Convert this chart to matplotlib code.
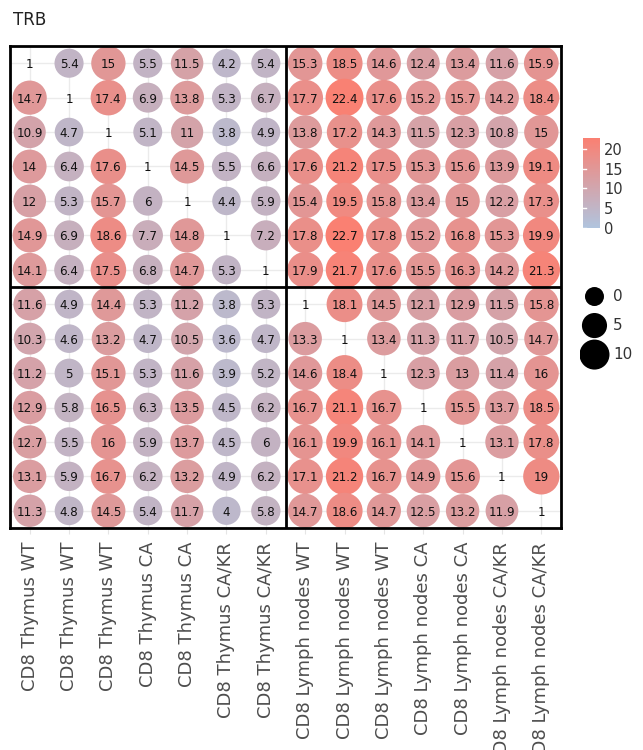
import matplotlib.pyplot as plt
import numpy as np
from matplotlib.colors import LinearSegmentedColormap, Normalize

# Muestras (mismo orden en filas y columnas)
muestras = [
    'CD8 Thymus WT', 'CD8 Thymus WT', 'CD8 Thymus WT',
    'CD8 Thymus CA', 'CD8 Thymus CA',
    'CD8 Thymus CA/KR', 'CD8 Thymus CA/KR',
    'CD8 Lymph nodes WT', 'CD8 Lymph nodes WT', 'CD8 Lymph nodes WT',
    'CD8 Lymph nodes CA', 'CD8 Lymph nodes CA',
    'CD8 Lymph nodes CA/KR', 'CD8 Lymph nodes CA/KR',
]

# Valores por fila (de arriba hacia abajo)
fila_01 = [1, 5.4, 15, 5.5, 11.5, 4.2, 5.4, 15.3, 18.5, 14.6, 12.4, 13.4, 11.6, 15.9]
fila_02 = [14.7, 1, 17.4, 6.9, 13.8, 5.3, 6.7, 17.7, 22.4, 17.6, 15.2, 15.7, 14.2, 18.4]
fila_03 = [10.9, 4.7, 1, 5.1, 11, 3.8, 4.9, 13.8, 17.2, 14.3, 11.5, 12.3, 10.8, 15]
fila_04 = [14, 6.4, 17.6, 1, 14.5, 5.5, 6.6, 17.6, 21.2, 17.5, 15.3, 15.6, 13.9, 19.1]
fila_05 = [12, 5.3, 15.7, 6, 1, 4.4, 5.9, 15.4, 19.5, 15.8, 13.4, 15, 12.2, 17.3]
fila_06 = [14.9, 6.9, 18.6, 7.7, 14.8, 1, 7.2, 17.8, 22.7, 17.8, 15.2, 16.8, 15.3, 19.9]
fila_07 = [14.1, 6.4, 17.5, 6.8, 14.7, 5.3, 1, 17.9, 21.7, 17.6, 15.5, 16.3, 14.2, 21.3]
fila_08 = [11.6, 4.9, 14.4, 5.3, 11.2, 3.8, 5.3, 1, 18.1, 14.5, 12.1, 12.9, 11.5, 15.8]
fila_09 = [10.3, 4.6, 13.2, 4.7, 10.5, 3.6, 4.7, 13.3, 1, 13.4, 11.3, 11.7, 10.5, 14.7]
fila_10 = [11.2, 5, 15.1, 5.3, 11.6, 3.9, 5.2, 14.6, 18.4, 1, 12.3, 13, 11.4, 16]
fila_11 = [12.9, 5.8, 16.5, 6.3, 13.5, 4.5, 6.2, 16.7, 21.1, 16.7, 1, 15.5, 13.7, 18.5]
fila_12 = [12.7, 5.5, 16, 5.9, 13.7, 4.5, 6, 16.1, 19.9, 16.1, 14.1, 1, 13.1, 17.8]
fila_13 = [13.1, 5.9, 16.7, 6.2, 13.2, 4.9, 6.2, 17.1, 21.2, 16.7, 14.9, 15.6, 1, 19]
fila_14 = [11.3, 4.8, 14.5, 5.4, 11.7, 4, 5.8, 14.7, 18.6, 14.7, 12.5, 13.2, 11.9, 1]

# Claves de la leyenda de tamaño y ticks de la barra de color
leyenda_tamanos = [0, 5, 10]
ticks_color = [0, 5, 10, 15, 20]

filas = [fila_01, fila_02, fila_03, fila_04, fila_05, fila_06, fila_07,
         fila_08, fila_09, fila_10, fila_11, fila_12, fila_13, fila_14]
matriz = np.array(filas, dtype=float)
n = len(muestras)

DPI = 100


def f_tamano(v):
    # diámetro^2 en px lineal con el valor -> área en puntos^2
    d2 = 659 + 34.6 * np.asarray(v)
    return d2 * (72 / DPI) ** 2


def f_tamano_leyenda(v):
    d2 = 361 + 54 * np.asarray(v)
    return d2 * (72 / DPI) ** 2


def f_texto(v):
    return f'{v:g}'


cmap = LinearSegmentedColormap.from_list('azul_salmon', ['#b0c4de', '#fa8072'])
norm = Normalize(vmin=0, vmax=matriz.max())

fig = plt.figure(figsize=(6.43, 7.5), dpi=DPI)
ax = fig.add_axes([10 / 643, 1 - 528 / 750, 551 / 643, 482 / 750])

xx, yy = np.meshgrid(np.arange(n), np.arange(n))
fuera_diag = xx != yy

ax.scatter(xx[fuera_diag], yy[fuera_diag], s=f_tamano(matriz[fuera_diag]),
           c=matriz[fuera_diag], cmap=cmap, norm=norm, linewidths=0, zorder=3)

for i in range(n):
    for j in range(n):
        ax.text(j, i + 0.04, f_texto(matriz[i, j]), ha='center', va='center',
                fontsize=8.6, color='#111111', zorder=4)

ax.set_xlim(-0.5, n - 0.5)
ax.set_ylim(n - 0.5, -0.5)
ax.set_xticks(range(n))
ax.set_xticklabels(muestras, rotation=90, fontsize=13, color='#4d4d4d')
ax.set_yticks(range(n))
ax.set_yticklabels([])
ax.tick_params(axis='x', length=4, color='#e5e5e5', pad=6)
ax.tick_params(axis='y', length=0)
ax.grid(color='#ebebeb', linewidth=1, zorder=0)
ax.set_axisbelow(True)

# Bordes y divisiones entre bloques
for lado in ax.spines.values():
    lado.set_linewidth(2)
    lado.set_color('black')
    lado.set_zorder(5)
mitad = n / 2 - 0.5
ax.axvline(mitad, color='black', linewidth=2, zorder=5)
ax.axhline(mitad, color='black', linewidth=2, zorder=5)

fig.text(13 / 643, 1 - 20 / 750, 'TRB', fontsize=12, color='#222222', va='center')

# Barra de color
cax = fig.add_axes([583 / 643, 1 - 228 / 750, 17 / 643, 90 / 750])
cb = fig.colorbar(plt.cm.ScalarMappable(norm=norm, cmap=cmap), cax=cax, ticks=ticks_color)
cb.outline.set_visible(False)
cax.tick_params(labelsize=10.5, colors='#333333', length=0, pad=3)
for t in ticks_color:
    cax.plot([0, 0.15], [t, t], color='white', linewidth=1, transform=cax.get_yaxis_transform())

# Leyenda de tamaños
lax = fig.add_axes([580 / 643, 1 - 372 / 750, 60 / 643, 90 / 750])
pos = np.arange(len(leyenda_tamanos))
lax.scatter(np.zeros(len(pos)), pos, s=f_tamano_leyenda(leyenda_tamanos), color='black', linewidths=0)
for p, v in zip(pos, leyenda_tamanos):
    lax.text(0.9, p, str(v), va='center', ha='left', fontsize=11, color='#333333')
lax.set_xlim(-0.7, 2.2)
lax.set_ylim(2.6, -0.5)
lax.axis('off')

fig.savefig('out.png', dpi=DPI)
